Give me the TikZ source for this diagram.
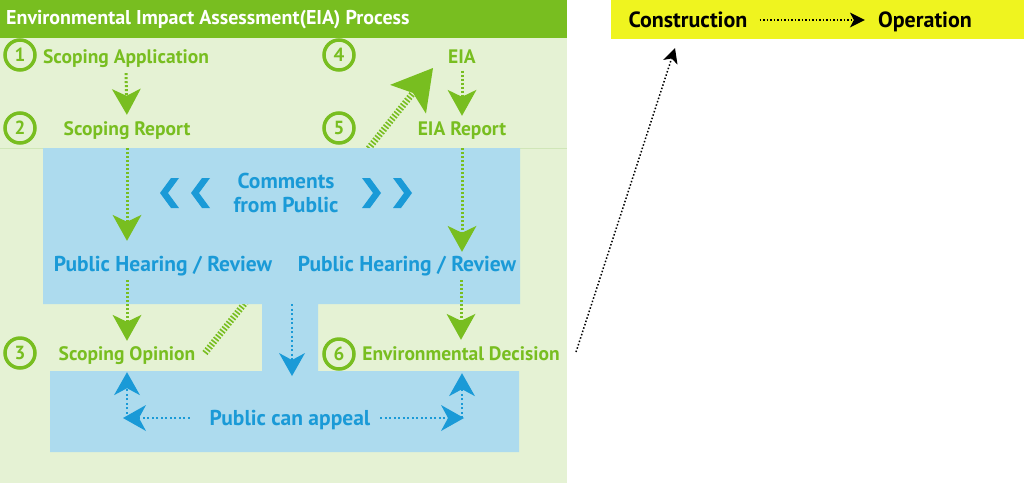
\documentclass[tikz,border=0pt]{standalone}
\usepackage{fontspec}
\setmainfont{PT Sans}
\usetikzlibrary{arrows.meta}
\definecolor{egreen}{HTML}{78BE20}
\definecolor{lgreen}{HTML}{E5F2D4}
\definecolor{sepgreen}{HTML}{D0E6B8}
\definecolor{bfill}{HTML}{ADDBEE}
\definecolor{btext}{HTML}{1A9AD7}
\definecolor{yel}{HTML}{EFF41F}
\tikzset{
  gtext/.style={text=egreen, font=\bfseries\fontsize{19.5}{22}\selectfont, inner sep=2pt, text height=14pt, text depth=5pt},
  btxt/.style={text=btext, font=\bfseries\fontsize{21.5}{24}\selectfont, inner sep=2pt, text height=15pt, text depth=5pt},
  ktxt/.style={text=black, font=\bfseries\fontsize{22}{24}\selectfont, inner sep=2pt, text height=15pt, text depth=5pt},
  numc/.style={circle, draw=egreen, line width=3.5pt, minimum size=30pt, inner sep=0pt, text=egreen, font=\bfseries\fontsize{19}{20}\selectfont},
  garrow/.style={draw=egreen, line width=3pt, dash pattern=on 2pt off 2pt, -{Stealth[length=26pt, width=29pt, inset=7pt, line width=0pt]}},
  diag/.style={draw=egreen, line width=6.5pt, dash pattern=on 1.6pt off 1.8pt, -{Stealth[length=40pt, width=46pt, inset=8pt, line width=0pt]}},
  barrow/.style={draw=btext, line width=2.5pt, dash pattern=on 2pt off 2.5pt, -{Stealth[length=23pt, width=26pt, inset=7pt, line width=0pt]}},
  karrow/.style={draw=black, line width=1.5pt, dash pattern=on 1.5pt off 2pt, -{Stealth[length=15pt, width=15pt, inset=4pt, line width=0pt]}},
}
\begin{document}
\begin{tikzpicture}[x=1pt,y=-1pt]
\useasboundingbox (0,0) rectangle (1024,483);
% panels
\fill[lgreen] (0,0) rectangle (567,483);
\fill[egreen] (0,0) rectangle (567,38);
\draw[sepgreen, line width=1pt] (0,148) -- (567,148);
\fill[yel] (611,0) rectangle (1024,39);
% diagonal (behind blue area)
\coordinate (dstart) at (205,353);
\coordinate (dend) at (433,68);
\draw[diag] (dstart) -- (dend);
% blue area
\fill[bfill] (43,148) -- (520,148) -- (520,304) -- (318,304) -- (318,371) -- (519,371)
  -- (519,452) -- (50,452) -- (50,371) -- (262,371) -- (262,304) -- (43,304) -- cycle;
% title
\node[anchor=west, text=white, font=\bfseries\fontsize{20}{22}\selectfont, inner sep=0pt] (title) at (6,20) {Environmental Impact Assessment(EIA) Process};
% numbers
\node[numc] (c1) at (20,55) {1};
\node[numc] (c2) at (20,128) {2};
\node[numc] (c3) at (20,353) {3};
\node[numc] (c4) at (339,55) {4};
\node[numc] (c5) at (339,128) {5};
\node[numc] (c6) at (339,354) {6};
% green texts
\node[gtext] (sa) at (126,59) {Scoping Application};
\node[gtext] (sr) at (127,131) {Scoping Report};
\node[gtext] (so) at (127,355.5) {Scoping Opinion};
\node[gtext] (eia) at (462,59) {EIA};
\node[gtext] (eiar) at (462,131) {EIA Report};
\node[gtext] (ed) at (461,355.5) {Environmental Decision};
% blue texts
\node[btxt, align=center, text height=, text depth=] (cm) at (286,193) {Comments\\from Public};
\node[btxt] (phl) at (163,266.5) {Public Hearing / Review};
\node[btxt] (phr) at (407,266.5) {Public Hearing / Review};
\node[btxt] (ap) at (290,420.5) {Public can appeal};
% chevrons
\fill[btext] (179,178) -- (171,178) -- (160,193) -- (171,208) -- (179,208) -- (168,193) -- cycle;
\fill[btext] (210,178) -- (202,178) -- (191,193) -- (202,208) -- (210,208) -- (199,193) -- cycle;
\fill[btext] (362,178) -- (370,178) -- (381,193) -- (370,208) -- (362,208) -- (373,193) -- cycle;
\fill[btext] (393,178) -- (401,178) -- (412,193) -- (401,208) -- (393,208) -- (404,193) -- cycle;
% green arrows
\draw[garrow, shorten <=2.5pt, shorten >=4.5pt] (sa.south) -- (sr.north);
\draw[garrow, shorten <=5.5pt, shorten >=13.5pt] (sr.south) -- (sr.south |- phl.north);
\draw[garrow, shorten <=1.5pt, shorten >=3pt] (so.north |- phl.south) -- (so.north);
\draw[garrow, shorten >=3.5pt] (eia.south) -- (eiar.north);
\draw[garrow, shorten <=5.5pt, shorten >=2.5pt] (eiar.south) -- (eiar.south |- phr.north);
\draw[garrow, shorten <=1.5pt, shorten >=4pt] (ed.north |- phr.south) -- (ed.north);
% blue arrows
\coordinate (stemtop) at (292,304);
\coordinate (stembot) at (292,376);
\draw[barrow] (stemtop) -- (stembot);
\coordinate (apL) at (127,418);
\coordinate (apR) at (462,418);
\draw[barrow, shorten <=18pt, shorten >=-4pt] (ap.west |- apL) -- (apL);
\draw[barrow, shorten >=5pt] (apL) -- (apL |- so.south);
\draw[barrow, shorten <=8pt, shorten >=-2pt] (ap.east |- apR) -- (apR);
\draw[barrow, shorten >=6pt] (apR) -- (apR |- ed.south);
% right side
\node[ktxt] (con) at (688,22.7) {Construction};
\node[ktxt] (op) at (925,22.7) {Operation};
\draw[karrow, shorten <=10pt, shorten >=11pt] (con.east |- 0,20) -- (op.west |- 0,20);
\coordinate (kstart) at (576,352);
\coordinate (kend) at (675,48);
\draw[karrow] (kstart) -- (kend);
\end{tikzpicture}
\end{document}
